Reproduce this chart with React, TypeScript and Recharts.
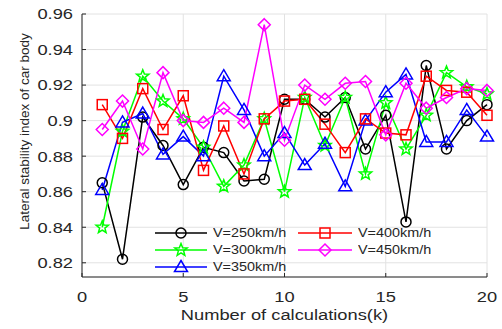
import React from 'react';
import { LineChart, Line, XAxis, YAxis, CartesianGrid, Legend, Label } from 'recharts';

// calculation index (k)
const calcs = [1, 2, 3, 4, 5, 6, 7, 8, 9, 10, 11, 12, 13, 14, 15, 16, 17, 18, 19, 20];

// lateral stability index per speed
const v250 = [0.865, 0.822, 0.902, 0.886, 0.864, 0.885, 0.882, 0.866, 0.867, 0.912, 0.912, 0.902, 0.913, 0.884, 0.903, 0.843, 0.931, 0.884, 0.9, 0.909];
const v300 = [0.84, 0.894, 0.925, 0.911, 0.901, 0.885, 0.863, 0.875, 0.901, 0.86, 0.913, 0.886, 0.913, 0.87, 0.91, 0.884, 0.903, 0.927, 0.919, 0.915];
const v350 = [0.861, 0.899, 0.904, 0.881, 0.891, 0.88, 0.925, 0.906, 0.88, 0.893, 0.875, 0.887, 0.863, 0.9, 0.916, 0.926, 0.888, 0.888, 0.906, 0.891];
const v400 = [0.909, 0.89, 0.918, 0.895, 0.914, 0.872, 0.897, 0.87, 0.901, 0.911, 0.912, 0.898, 0.882, 0.901, 0.893, 0.892, 0.925, 0.917, 0.916, 0.903];
const v450 = [0.895, 0.911, 0.884, 0.927, 0.9, 0.899, 0.907, 0.899, 0.954, 0.889, 0.92, 0.912, 0.921, 0.922, 0.892, 0.921, 0.907, 0.913, 0.918, 0.917];

const xTicks = [0, 5, 10, 15, 20];
const yTicks = [0.82, 0.84, 0.86, 0.88, 0.9, 0.92, 0.94, 0.96];

type Shape = 'circle' | 'star' | 'triangle' | 'square' | 'diamond';

const series: { key: string; name: string; color: string; shape: Shape }[] = [
  { key: 'v250', name: 'V=250km/h', color: '#000000', shape: 'circle' },
  { key: 'v300', name: 'V=300km/h', color: '#00ff00', shape: 'star' },
  { key: 'v350', name: 'V=350km/h', color: '#0000ff', shape: 'triangle' },
  { key: 'v400', name: 'V=400km/h', color: '#ff0000', shape: 'square' },
  { key: 'v450', name: 'V=450km/h', color: '#ff00ff', shape: 'diamond' },
];

const data = calcs.map((k, i) => ({
  k,
  v250: v250[i],
  v300: v300[i],
  v350: v350[i],
  v400: v400[i],
  v450: v450[i],
}));

const FONT = 'Arial, "Liberation Sans", Helvetica, sans-serif';
const TEXT = '#262626';

function starPoints(cx: number, cy: number, ro: number, ri: number) {
  const pts: string[] = [];
  for (let i = 0; i < 10; i++) {
    const r = i % 2 === 0 ? ro : ri;
    const a = -Math.PI / 2 + (i * Math.PI) / 5;
    pts.push(`${cx + r * Math.cos(a)},${cy + r * Math.sin(a)}`);
  }
  return pts.join(' ');
}

function Marker({ shape, cx, cy, color }: { shape: Shape; cx: number; cy: number; color: string }) {
  const common = { fill: 'none', stroke: color, strokeWidth: 1.5 };
  if (shape === 'circle') return <circle cx={cx} cy={cy} r={5} {...common} />;
  if (shape === 'square') return <rect x={cx - 5} y={cy - 5} width={10} height={10} {...common} />;
  if (shape === 'diamond')
    return <polygon points={`${cx},${cy - 6} ${cx + 6},${cy} ${cx},${cy + 6} ${cx - 6},${cy}`} {...common} />;
  if (shape === 'triangle')
    return <polygon points={`${cx},${cy - 6.5} ${cx + 6.5},${cy + 4.5} ${cx - 6.5},${cy + 4.5}`} {...common} />;
  return <polygon points={starPoints(cx, cy, 6.5, 2.8)} {...common} />;
}

const YTick = ({ x, y, payload }: any) => (
  <text
    transform={`translate(${x},${y}) scale(1.22,1)`}
    textAnchor="end"
    dy="0.36em"
    fontSize={15}
    fontFamily={FONT}
    fill={TEXT}
  >
    {payload.value}
  </text>
);

const XTick = ({ x, y, payload }: any) => (
  <text
    transform={`translate(${x},${y}) scale(1.18,1)`}
    textAnchor="middle"
    dy={9}
    fontSize={15.5}
    fontFamily={FONT}
    fill={TEXT}
  >
    {payload.value}
  </text>
);

const XTitle = ({ viewBox }: any) => (
  <text
    transform={`translate(${viewBox.x + viewBox.width / 2},320) scale(1.22,1)`}
    textAnchor="middle"
    fontSize={15}
    fontFamily={FONT}
    fill={TEXT}
  >
    Number of calculations(k)
  </text>
);

const YTitle = () => (
  <text
    transform="translate(29,131.5) rotate(-90)"
    textAnchor="middle"
    fontSize={13.5}
    fontFamily={FONT}
    fill={TEXT}
  >
    Lateral stability index of car body
  </text>
);

// legend placement: two columns, as in the figure
const legendSlots = [
  { left: 155, top: 233, w: 52 },
  { left: 155, top: 250, w: 52 },
  { left: 155, top: 267, w: 52 },
  { left: 298, top: 233, w: 54 },
  { left: 298, top: 250, w: 54 },
];

const LegendBox = () => (
  <div style={{ position: 'relative', width: 502, height: 329 }}>
    {series.map((s, i) => {
      const slot = legendSlots[i];
      return (
        <div
          key={s.key}
          style={{ position: 'absolute', left: slot.left, top: slot.top - 8, height: 16, display: 'flex', alignItems: 'center' }}
        >
          <svg width={slot.w} height={16} style={{ display: 'block' }}>
            <line x1={0} y1={8} x2={slot.w} y2={8} stroke={s.color} strokeWidth={1.5} />
            <Marker shape={s.shape} cx={slot.w / 2} cy={8} color={s.color} />
          </svg>
          <span
            style={{
              marginLeft: 6,
              fontFamily: FONT,
              fontSize: 12,
              color: TEXT,
              display: 'inline-block',
              transform: 'scaleX(1.2)',
              transformOrigin: 'left center',
              whiteSpace: 'nowrap',
            }}
          >
            {s.name}
          </span>
        </div>
      );
    })}
  </div>
);

export default function App() {
  return (
    <div style={{ position: 'absolute', left: 0, top: 0, width: 502, height: 329, background: '#fff' }}>
      <LineChart width={502} height={329} data={data} margin={{ top: 14, right: 15, bottom: 0, left: 0 }}>
        <CartesianGrid stroke="#e2e2e2" />
        <XAxis
          dataKey="k"
          type="number"
          domain={[0, 20]}
          ticks={xTicks}
          height={52}
          stroke={TEXT}
          tickSize={-4}
          tickMargin={20}
          tick={XTick}
        >
          <Label content={XTitle} />
        </XAxis>
        <XAxis
          xAxisId="top"
          orientation="top"
          type="number"
          domain={[0, 20]}
          allowDataOverflow
          ticks={xTicks}
          height={0}
          stroke={TEXT}
          tickSize={-4}
          tickFormatter={() => ''}
        />
        <YAxis
          type="number"
          domain={[0.812, 0.96]}
          allowDataOverflow
          ticks={yTicks}
          width={82}
          stroke={TEXT}
          tickSize={-4}
          tickMargin={13}
          tick={YTick}
        >
          <Label content={YTitle} />
        </YAxis>
        <YAxis
          yAxisId="right"
          orientation="right"
          type="number"
          domain={[0.812, 0.96]}
          allowDataOverflow
          ticks={yTicks}
          width={0}
          stroke={TEXT}
          tickSize={-4}
          tickFormatter={() => ''}
        />
        {series.map((s) => (
          <Line
            key={s.key}
            dataKey={s.key}
            name={s.name}
            stroke={s.color}
            strokeWidth={1.5}
            isAnimationActive={false}
            dot={(p: any) => <Marker key={`${s.key}-${p.index}`} shape={s.shape} cx={p.cx} cy={p.cy} color={s.color} />}
            activeDot={false}
          />
        ))}
        <Legend
          layout="horizontal"
          verticalAlign="middle"
          align="center"
          wrapperStyle={{ left: 0, top: 0, width: 502, height: 329, pointerEvents: 'none' }}
          content={LegendBox}
        />
      </LineChart>
    </div>
  );
}
